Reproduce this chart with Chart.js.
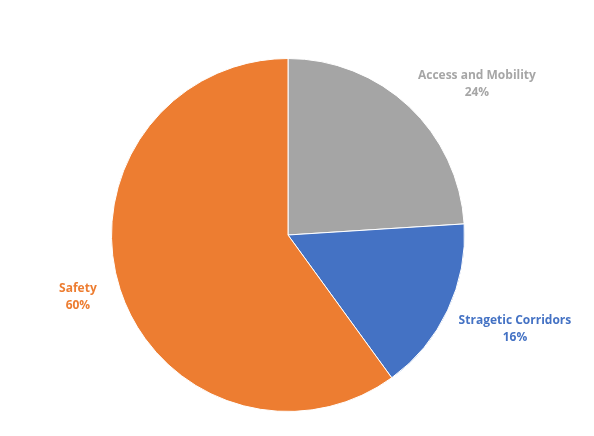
<!DOCTYPE html>
<html>
<head>
<meta charset="utf-8">
<script src="https://cdn.jsdelivr.net/npm/chart.js@4/dist/chart.umd.min.js"></script>
<style>
  html, body { margin: 0; padding: 0; background: #fff; }
</style>
</head>
<body>
<canvas id="pie" width="594" height="436"></canvas>
<script>
const categories = ["Access and Mobility", "Stragetic Corridors", "Safety"];
const shares = [24, 16, 60];
const sliceColors = ["#A5A5A5", "#4472C4", "#ED7D31"];
const labelColors = ["#A6A6A6", "#4472C4", "#ED7D31"];

// how far out each label sits, as a multiple of the radius, plus an angle nudge
const labelDistance = [1.373, 1.39, 1.24];
const labelNudge = [0.14, -0.05, 0.03];

const outsideLabels = {
  id: "outsideLabels",
  afterDatasetsDraw(chart) {
    const ctx = chart.ctx;
    const meta = chart.getDatasetMeta(0);
    ctx.save();
    ctx.font = "bold 12px 'Open Sans', sans-serif";
    ctx.textAlign = "center";
    ctx.textBaseline = "middle";
    meta.data.forEach((arc, i) => {
      const mid = (arc.startAngle + arc.endAngle) / 2 + labelNudge[i];
      const r = arc.outerRadius * labelDistance[i];
      const x = arc.x + Math.cos(mid) * r;
      const y = arc.y + Math.sin(mid) * r;
      ctx.fillStyle = labelColors[i];
      ctx.fillText(categories[i], x, y - 8);
      ctx.fillText(shares[i] + "%", x, y + 9);
    });
    ctx.restore();
  }
};

const ctx = document.getElementById("pie").getContext("2d");
new Chart(ctx, {
  type: "pie",
  data: {
    labels: categories,
    datasets: [
      {
        data: shares,
        backgroundColor: sliceColors,
        borderColor: "#ffffff",
        borderWidth: 1,
      },
    ],
  },
  options: {
    responsive: false,
    animation: false,
    layout: {
      padding: { left: 111, right: 129, top: 58, bottom: 24 },
    },
    plugins: {
      legend: { display: false },
      tooltip: { enabled: false },
    },
  },
  plugins: [outsideLabels],
});
</script>
</body>
</html>
